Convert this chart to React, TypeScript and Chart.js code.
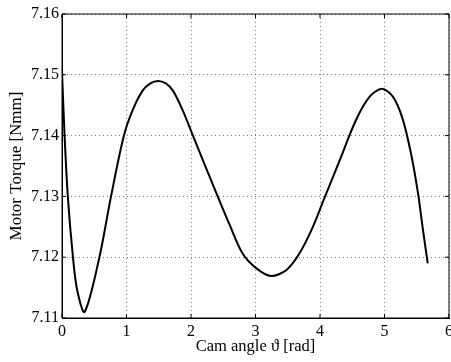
import React, { useEffect, useRef } from "react";
import { Chart, registerables } from "chart.js";

Chart.register(...registerables);

// Cam angle [rad]
const camAngle = [
  0, 0.04, 0.09, 0.17, 0.235, 0.35, 0.58, 0.76, 0.96, 1.1, 1.25, 1.37, 1.49, 1.61,
  1.72, 1.87, 2.03, 2.29, 2.6, 2.8, 3.01, 3.24, 3.48, 3.68, 3.89, 4.06, 4.3, 4.56,
  4.77, 4.96, 5.13, 5.28, 5.41, 5.52, 5.59, 5.67,
];
// Motor torque [Nmm]
const motorTorque = [
  7.1505, 7.14, 7.13, 7.12, 7.1146, 7.111, 7.12, 7.13, 7.14, 7.1443, 7.1474, 7.1486,
  7.149, 7.1486, 7.1474, 7.1442, 7.14, 7.1332, 7.1253, 7.1206, 7.1182, 7.1169,
  7.1179, 7.1206, 7.125, 7.1295, 7.1358, 7.1426, 7.1464, 7.1477, 7.1464, 7.1428,
  7.1371, 7.1305, 7.125, 7.119,
];

const xTitle = "Cam angle \u03d1 [rad]";
const yTitle = "Motor Torque [Nmm]";

const FONT = "'Liberation Serif', 'Times New Roman', serif";

const frameAndTicks = {
  id: "frameAndTicks",
  afterDraw(chart: any) {
    const { ctx, chartArea } = chart;
    const { left, right, top, bottom } = chartArea;
    const xs = chart.scales.x;
    const ys = chart.scales.y;
    const len = 4;
    ctx.save();
    ctx.strokeStyle = "#000";
    ctx.lineWidth = 1;
    ctx.beginPath();
    ctx.rect(left, top, right - left, bottom - top);
    ctx.stroke();
    ctx.beginPath();
    xs.ticks.forEach((t: any) => {
      const px = xs.getPixelForValue(t.value);
      ctx.moveTo(px, bottom);
      ctx.lineTo(px, bottom - len);
      ctx.moveTo(px, top);
      ctx.lineTo(px, top + len);
    });
    ys.ticks.forEach((t: any) => {
      const py = ys.getPixelForValue(t.value);
      ctx.moveTo(left, py);
      ctx.lineTo(left + len, py);
      ctx.moveTo(right, py);
      ctx.lineTo(right - len, py);
    });
    ctx.stroke();
    ctx.restore();
  },
};

export default function App() {
  const ref = useRef<HTMLCanvasElement | null>(null);
  useEffect(() => {
    if (!ref.current) return;
    const data = camAngle.map((x, i) => ({ x, y: motorTorque[i] }));
    const chart = new Chart(ref.current, {
      type: "line",
      data: {
        datasets: [
          {
            data,
            borderColor: "#000",
            borderWidth: 2,
            pointRadius: 0,
            tension: 0.3,
            fill: false,
          },
        ],
      },
      options: {
        animation: false,
        responsive: false,
        events: [],
        layout: { padding: { top: 14, right: 2, left: 0, bottom: 0 } },
        plugins: { legend: { display: false }, tooltip: { enabled: false } },
        scales: {
          x: {
            type: "linear",
            min: 0,
            max: 6,
            ticks: {
              stepSize: 1,
              color: "#000",
              padding: 4,
              font: { family: FONT, size: 16 },
              maxRotation: 0,
            },
            grid: { color: "rgba(0,0,0,0.5)", drawTicks: false, lineWidth: 1 },
            border: { display: true, color: "#000", width: 1, dash: [1, 3] },
            title: {
              display: true,
              text: xTitle,
              color: "#000",
              font: { family: FONT, size: 16.5 },
              padding: { top: 0, bottom: 5 },
            },
            afterFit(scale: any) {
              scale.height = 44;
              scale.paddingLeft = 0;
              scale.paddingRight = 0;
            },
          },
          y: {
            type: "linear",
            min: 7.11,
            max: 7.16,
            ticks: {
              stepSize: 0.01,
              color: "#000",
              padding: 3,
              font: { family: FONT, size: 16 },
              callback: (v: any) => Number(v).toFixed(2),
            },
            grid: { color: "rgba(0,0,0,0.5)", drawTicks: false, lineWidth: 1 },
            border: { display: true, color: "#000", width: 1, dash: [1, 3] },
            title: {
              display: true,
              text: yTitle,
              color: "#000",
              font: { family: FONT, size: 17 },
              padding: { top: 6, bottom: 0 },
            },
            afterFit(scale: any) {
              scale.width = 62;
              scale.paddingTop = 0;
              scale.paddingBottom = 0;
            },
          },
        },
      },
      plugins: [frameAndTicks],
    } as any);
    return () => chart.destroy();
  }, []);
  return (
    <div style={{ position: "absolute", left: 0, top: 0, width: 451, height: 362, background: "#fff" }}>
      <canvas ref={ref} width={451} height={362} style={{ display: "block" }} />
    </div>
  );
}
